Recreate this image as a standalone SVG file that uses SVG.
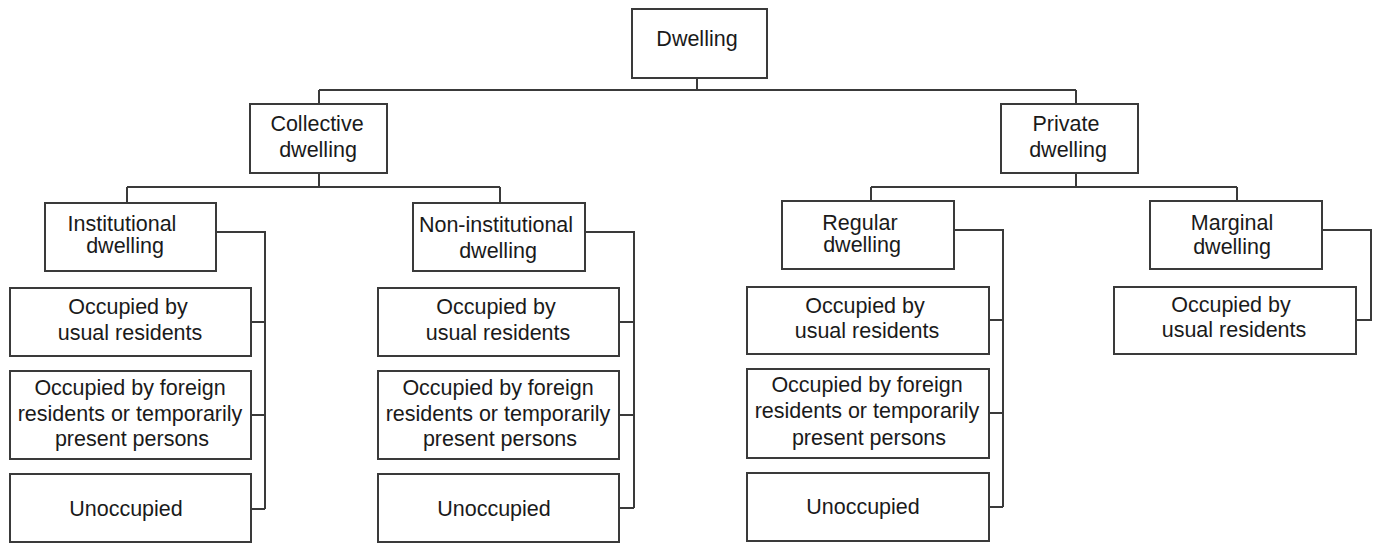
<svg xmlns="http://www.w3.org/2000/svg" width="1377" height="543" viewBox="0 0 1377 543">
<style>
.b{fill:#fff;stroke:#3a3a3a;stroke-width:2}
.c{fill:none;stroke:#3a3a3a;stroke-width:2}
text{font-family:"Liberation Sans",Arial,sans-serif;font-size:21.5px;fill:#1a1a1a;text-anchor:middle}
</style>
<rect width="1377" height="543" fill="#fff"/>
<g id="connectors" class="c">
<path d="M697 78V90M319 90H1076M319 90V104M1076 90V104"/>
<path d="M319 173V187M127 187H500M127 187V203M500 187V203"/>
<path d="M1076 173V187M871 187H1237M871 187V201M1237 187V201"/>
<path d="M216 232H265V509M251 322H265M251 415H265M251 509H265"/>
<path d="M585 232H634V508M619 322H634M619 415H634M619 508H634"/>
<path d="M954 230H1003V507M989 320H1003M989 413H1003M989 507H1003"/>
<path d="M1322 230H1371V320H1356"/>
</g>
<g id="dwelling"><rect class="b" x="632" y="9" width="135" height="69"/><text x="697" y="46">Dwelling</text></g>
<g id="collective"><rect class="b" x="250" y="104" width="137" height="69"/><text x="317" y="131">Collective</text><text x="318" y="157">dwelling</text></g>
<g id="private"><rect class="b" x="1001" y="104" width="137" height="69"/><text x="1066" y="131">Private</text><text x="1068" y="157">dwelling</text></g>
<g id="institutional"><rect class="b" x="45" y="203" width="171" height="68"/><text x="122" y="231">Institutional</text><text x="125" y="252.5">dwelling</text></g>
<g id="inst-usual"><rect class="b" x="10" y="288" width="241" height="68"/><text x="128" y="313.5">Occupied by</text><text x="130" y="339.5">usual residents</text></g>
<g id="inst-foreign"><rect class="b" x="10" y="371" width="241" height="88"/><text x="130" y="395">Occupied by foreign</text><text x="130" y="420.5">residents or temporarily</text><text x="132" y="446">present persons</text></g>
<g id="inst-unocc"><rect class="b" x="10" y="474" width="241" height="68"/><text x="126" y="516">Unoccupied</text></g>
<g id="noninstitutional"><rect class="b" x="413" y="203" width="172" height="68"/><text x="496" y="231.5">Non-institutional</text><text x="498" y="258">dwelling</text></g>
<g id="noninst-usual"><rect class="b" x="378" y="288" width="241" height="68"/><text x="496" y="313.5">Occupied by</text><text x="498" y="339.5">usual residents</text></g>
<g id="noninst-foreign"><rect class="b" x="378" y="371" width="241" height="88"/><text x="498" y="395">Occupied by foreign</text><text x="498" y="420.5">residents or temporarily</text><text x="500" y="446">present persons</text></g>
<g id="noninst-unocc"><rect class="b" x="378" y="474" width="241" height="68"/><text x="494" y="516">Unoccupied</text></g>
<g id="regular"><rect class="b" x="782" y="201" width="172" height="68"/><text x="860" y="230">Regular</text><text x="862" y="251.5">dwelling</text></g>
<g id="reg-usual"><rect class="b" x="747" y="287" width="242" height="67"/><text x="865" y="312.5">Occupied by</text><text x="867" y="337.5">usual residents</text></g>
<g id="reg-foreign"><rect class="b" x="747" y="369" width="242" height="89"/><text x="867" y="392">Occupied by foreign</text><text x="867" y="418">residents or temporarily</text><text x="869" y="444.5">present persons</text></g>
<g id="reg-unocc"><rect class="b" x="747" y="473" width="242" height="68"/><text x="863" y="513.5">Unoccupied</text></g>
<g id="marginal"><rect class="b" x="1150" y="201" width="172" height="68"/><text x="1232" y="229.5">Marginal</text><text x="1232" y="254">dwelling</text></g>
<g id="marg-usual"><rect class="b" x="1114" y="287" width="242" height="67"/><text x="1231" y="312">Occupied by</text><text x="1234" y="337">usual residents</text></g>
</svg>
